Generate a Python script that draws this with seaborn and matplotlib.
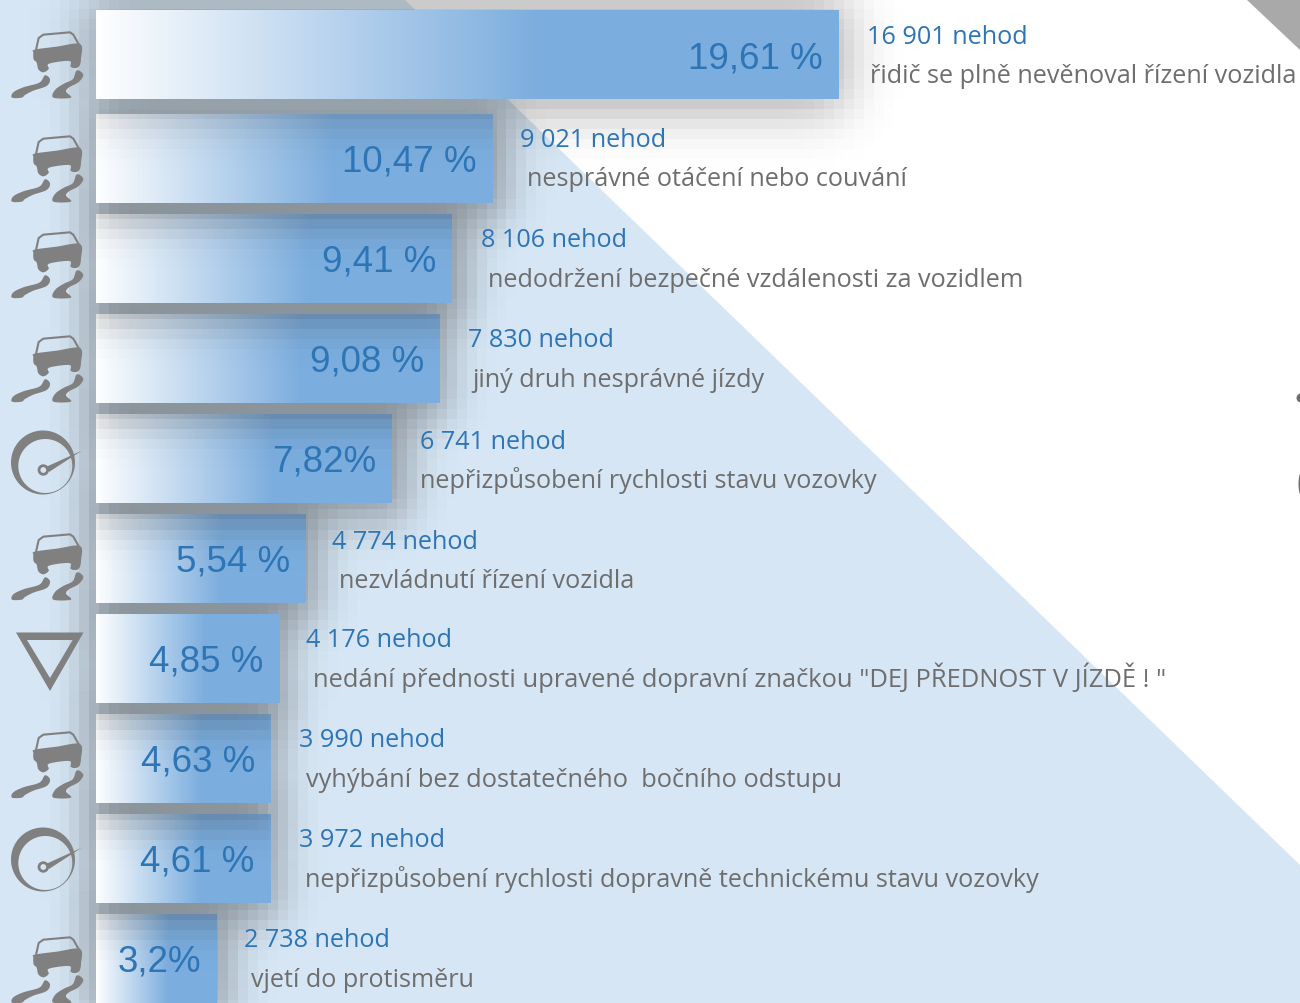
import numpy as np
import pandas as pd
import matplotlib
matplotlib.use("Agg")
import matplotlib.pyplot as plt
import seaborn as sns
from matplotlib.patches import Polygon, PathPatch, Circle, Ellipse
from matplotlib.path import Path
from matplotlib.transforms import Affine2D

# ---------- data ----------
shares = [19.61, 10.47, 9.41, 9.08, 7.82, 5.54, 4.85, 4.63, 4.61, 3.2]
share_labels = ["19,61 %", "10,47 %", "9,41 %", "9,08 %", "7,82%",
                "5,54 %", "4,85 %", "4,63 %", "4,61 %", "3,2%"]
counts = ["16 901 nehod", "9 021 nehod", "8 106 nehod", "7 830 nehod", "6 741 nehod",
          "4 774 nehod", "4 176 nehod", "3 990 nehod", "3 972 nehod", "2 738 nehod"]
causes = ["řidič se plně nevěnoval řízení vozidla",
          "nesprávné otáčení nebo couvání",
          "nedodržení bezpečné vzdálenosti za vozidlem",
          "jiný druh nesprávné jízdy",
          "nepřizpůsobení rychlosti stavu vozovky",
          "nezvládnutí řízení vozidla",
          "nedání přednosti upravené dopravní značkou \"DEJ PŘEDNOST V JÍZDĚ ! \"",
          "vyhýbání bez dostatečného  bočního odstupu",
          "nepřizpůsobení rychlosti dopravně technickému stavu vozovky",
          "vjetí do protisměru"]
icons = ["car", "car", "car", "car", "gauge", "car", "yield", "car", "gauge", "car"]

# ---------- layout (pixels) ----------
W, H = 1300, 1003
PX_PER_PCT = 37.87
X0 = 96
ROW0 = 58.5
count_dx = [28, 27, 29, 28, 28, 26, 26, 28, 28, 27]
cause_dx = [31, 34, 36, 32, 28, 33, 33, 35, 34, 34]
count_base = [44, 147, 247, 347, 449, 549, 647, 747, 847, 947]
cause_base = [83, 186, 287, 387, 488, 588, 687, 787, 887, 987]
cause_size = [18.16, 18.15, 18.22, 18.12, 18.12, 18.15, 18.4, 18.3, 18.15, 18.12]
car_dy = [0, 104, 200, 304, None, 502, None, 700, None, 905]
gauge_dy = [None] * 4 + [0] + [None] * 3 + [397, None]

BG = "#D6E6F4"
BAR = "#7BADDE"
BLUE = "#2E75B6"
GREY = "#6E6E6E"
ICON = "#808080"

sns.set_theme(style="white")
plt.rcParams["font.family"] = ["Open Sans", "DejaVu Sans"]

fig = plt.figure(figsize=((W + 0.01) / 100, (H + 0.01) / 100), dpi=100)
ax = fig.add_axes([0, 0, 1, 1])
ax.set_facecolor(BG)

df = pd.DataFrame({"cause": causes, "share": shares})
sns.barplot(data=df, x="share", y="cause", order=causes, orient="h", color=BAR,
            saturation=1, width=0.89, ax=ax, linewidth=0)

xlim = (-X0 / PX_PER_PCT, (W - X0) / PX_PER_PCT)
ylim = ((H - ROW0) / 100, -ROW0 / 100)
ax.set_xlim(xlim)
ax.set_ylim(ylim)
ax.set_xlabel("")
ax.set_ylabel("")
ax.set_xticks([])
ax.set_yticks([])
for s in ax.spines.values():
    s.set_visible(False)

px = Affine2D().scale(1 / W, -1 / H).translate(0, 1) + fig.transFigure
bars = list(ax.containers[0])
bars[0].set_y(bars[0].get_y() - 0.035)


def blur(a, sigma):
    r = int(3 * sigma)
    k = np.exp(-0.5 * (np.arange(-r, r + 1) / sigma) ** 2)
    k /= k.sum()
    a = np.apply_along_axis(lambda m: np.convolve(m, k, mode="same"), 0, a)
    return np.apply_along_axis(lambda m: np.convolve(m, k, mode="same"), 1, a)


# background
ax.add_patch(Polygon([(405, 0), (1300, 865), (1300, 0)], closed=True, transform=px,
                     fc="white", ec="none", zorder=0.5))
ax.add_patch(Polygon([(1247, 0), (1300, 50), (1300, 0)], closed=True, transform=px,
                     fc="#A9A9A9", ec="none", zorder=0.6))
ax.add_patch(Ellipse((1301, 398), 9, 9, transform=px, fc=GREY, ec="none", zorder=0.7))
ax.add_patch(Ellipse((1301, 484), 5, 22, transform=px, fc=GREY, ec="none", zorder=0.7))

# bars, gradients and blocky soft shadows
CELL = 10
ny, nx = int(H / CELL) + 1, int(W / CELL) + 1
grad = np.ones((1, 512, 4))
grad[0, :, 3] = np.clip(1 - np.linspace(0, 1, 512) / 0.60, 0, 1)
for i, b in enumerate(bars):
    z = 10 * (9 - i) + 2
    if i == 6:
        z += 13
    b.set_zorder(z)
    x0, w = b.get_x(), b.get_width()
    y0, h = b.get_y(), b.get_height()
    im = ax.imshow(grad, extent=(x0, x0 + w, y0 + h, y0), aspect="auto", zorder=z + 0.5,
                   interpolation="bilinear")
    im.set_clip_path(b)
    # shadow
    top = ROW0 + 100 * y0
    bot = ROW0 + 100 * (y0 + h)
    left = X0 + x0 * PX_PER_PCT
    right = X0 + (x0 + w) * PX_PER_PCT
    pad = 80
    off = pad // CELL
    mask = np.zeros((ny + 2 * off, nx + 2 * off))
    mask[int((top - 2) / CELL) + off: int((bot + 8) / CELL) + off + 1,
         int((left + 2) / CELL) + off: int((right + 8) / CELL) + off + 1] = 1
    mask = blur(mask, 2.6 if i == 0 else 2.0)[off:off + ny, off:off + nx]
    rgba = np.zeros((ny, nx, 4))
    rgba[..., :3] = 0.2
    rgba[..., 3] = 0.44 * mask
    ax.imshow(rgba, extent=(*xlim, (ny * CELL - ROW0) / 100, -ROW0 / 100), aspect="auto",
              zorder=10 * (9 - i) + 1, interpolation="nearest")
ax.set_xlim(xlim)
ax.set_ylim(ylim)

# texts
for i, v in enumerate(shares):
    ax.annotate(share_labels[i], xy=(v, 58 + 100 * i - (3 if i == 0 else 0) + 13),
                xycoords=(ax.transData, px), xytext=(-16 * 0.72, 0), textcoords="offset points",
                ha="right", va="baseline", color=BLUE, fontsize=26.5,
                family=["Liberation Sans"], zorder=200)
    ax.annotate(counts[i], xy=(v, count_base[i]), xycoords=(ax.transData, px),
                xytext=(count_dx[i] * 0.72, 0), textcoords="offset points",
                ha="left", va="baseline", color=BLUE, fontsize=18.15, zorder=200)
    ax.annotate(causes[i], xy=(v, cause_base[i]), xycoords=(ax.transData, px),
                xytext=(cause_dx[i] * 0.72, 0), textcoords="offset points",
                ha="left", va="baseline", color=GREY, fontsize=cause_size[i], zorder=200)


# icons (pixel geometry, 3x zoom coordinates for the car)
def tp(points, dy):
    return [(x / 3, y / 3 + dy) for x, y in points]


def smooth(points):
    """closed Catmull-Rom outline"""
    p = np.array(points, float)
    out = []
    n = len(p)
    for j in range(n):
        a, b, c, d = p[j - 1], p[j], p[(j + 1) % n], p[(j + 2) % n]
        for t in np.linspace(0, 1, 8, endpoint=False):
            out.append(0.5 * ((2 * b) + (c - a) * t + (2 * a - 5 * b + 4 * c - d) * t ** 2
                              + (3 * b - a - 3 * c + d) * t ** 3))
    return out


CAR_BODY = [(104, 149), (170, 140), (240, 132), (243, 175), (238, 198), (225, 204), (212, 200), (208, 183),
            (147, 191), (146, 207), (130, 217), (115, 208), (110, 188), (101, 178), (100, 158)]
CAR_ROOF = [(108, 150), (116, 114), (130, 104), (210, 97), (220, 104), (238, 136)]
SKID_L = [(36, 293), (40, 277), (70, 262), (118, 248), (135, 226), (150, 238), (140, 258),
          (100, 272), (75, 285), (65, 293)]
SKID_R = [(160, 293), (165, 270), (190, 252), (218, 238), (228, 214), (238, 212), (250, 226), (235, 247),
          (207, 262), (198, 275), (213, 293)]


def draw_car(dy):
    for shape in (CAR_BODY, SKID_L, SKID_R):
        ax.add_patch(Polygon(tp(smooth(shape), dy), closed=True, transform=px,
                             fc=ICON, ec="none", zorder=150))
    xs, ys = zip(*tp(CAR_ROOF, dy))
    ax.plot(xs, ys, color=ICON, lw=1.5, transform=px, zorder=150, solid_joinstyle="round")


def ring(cx, cy, r, reverse=False):
    t = np.linspace(0, 2 * np.pi, 80)
    if reverse:
        t = t[::-1]
    return np.c_[cx + r * np.cos(t), cy + r * np.sin(t)]


def draw_gauge(dy):
    outer = ring(43, 462.5 + dy, 32)
    inner = ring(45.3, 466 + dy, 27, True)
    verts = np.vstack([outer, inner])
    codes = [Path.MOVETO] + [Path.LINETO] * 79 + [Path.MOVETO] + [Path.LINETO] * 79
    ax.add_patch(PathPatch(Path(verts, codes), transform=px, fc=ICON, ec="none", zorder=150))
    ax.add_patch(Polygon([(47, 466.5 + dy), (81.7, 450.7 + dy), (49, 472 + dy)], closed=True, transform=px,
                         fc=ICON, ec="none", zorder=152))
    ax.add_patch(Circle((43.3, 470 + dy), 4.3, transform=px, fc=BG, ec=ICON, lw=2, zorder=153))


def draw_yield():
    verts = np.vstack([[(16, 632.5), (83.5, 632.5), (50, 691), (16, 632.5)],
                       [(27, 640), (50, 678), (72.7, 640), (27, 640)]])
    codes = [Path.MOVETO, Path.LINETO, Path.LINETO, Path.CLOSEPOLY] * 2
    ax.add_patch(PathPatch(Path(verts, codes), transform=px, fc=ICON, ec="none", zorder=150))


for i, kind in enumerate(icons):
    if kind == "car":
        draw_car(car_dy[i])
    elif kind == "gauge":
        draw_gauge(gauge_dy[i])
    else:
        draw_yield()

ax.set_xlim(xlim)
ax.set_ylim(ylim)
fig.savefig("out.png", dpi=100)
